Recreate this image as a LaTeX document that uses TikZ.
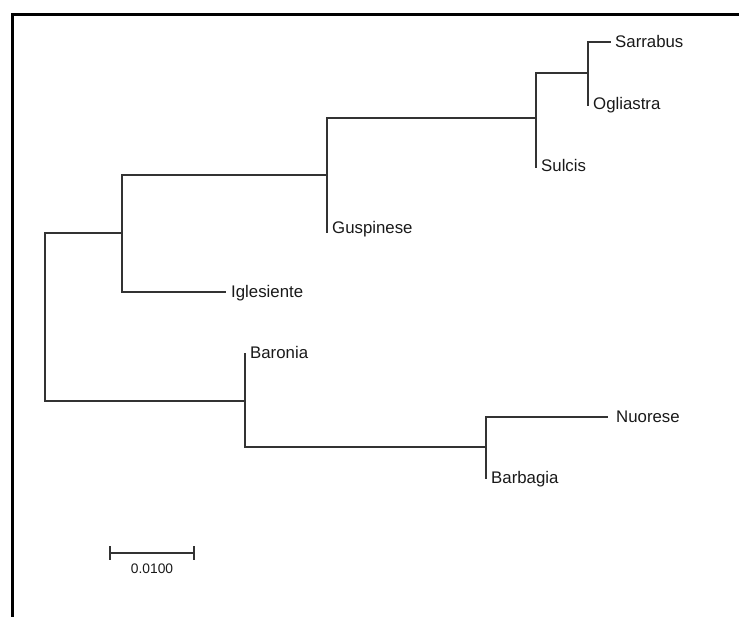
\documentclass[tikz,border=0pt]{standalone}
\usepackage{fontspec}
\setmainfont{Liberation Sans}
\begin{document}
\begin{tikzpicture}[x=1pt,y=-1pt,
  branch/.style={draw=black!80, line width=1.7pt, line cap=rect},
  leaf/.style={anchor=base west, inner sep=0pt, font=\fontsize{16.8}{19}\selectfont, text=black!90},
  scalelbl/.style={anchor=base, inner sep=0pt, font=\fontsize{13.8}{16}\selectfont, text=black!90}]
\useasboundingbox (0,0) rectangle (739,617);
\draw[line width=2.6pt, black] (12.3,617) -- (12.3,14.5) -- (739,14.5);
% internal nodes
\coordinate (root) at (45,317);
\coordinate (rtop) at (45,233);
\coordinate (rbot) at (45,401);
\coordinate (A) at (122,233);
\coordinate (Atop) at (122,175);
\coordinate (Abot) at (122,292);
\coordinate (B) at (327,175);
\coordinate (Btop) at (327,118);
\coordinate (C) at (536,118);
\coordinate (Ctop) at (536,73);
\coordinate (D) at (588,73);
\coordinate (Dtop) at (588,42);
\coordinate (E) at (245,401);
\coordinate (Ebot) at (245,447);
\coordinate (F) at (486,447);
\coordinate (Ftop) at (486,417);
% leaves
\coordinate (tSar) at (610,42);
\coordinate (tOgl) at (588,105);
\coordinate (tSul) at (536,167);
\coordinate (tGus) at (327,232);
\coordinate (tIgl) at (225,292);
\coordinate (tBar) at (245,354);
\coordinate (tNuo) at (607,417);
\coordinate (tBrb) at (486,478);
% branches
\draw[branch] (rtop) -- (rbot);
\draw[branch] (rtop) -- (A);
\draw[branch] (Atop) -- (Abot);
\draw[branch] (Atop) -- (B);
\draw[branch] (Abot) -- (tIgl);
\draw[branch] (Btop) -- (tGus);
\draw[branch] (Btop) -- (C);
\draw[branch] (Ctop) -- (tSul);
\draw[branch] (Ctop) -- (D);
\draw[branch] (Dtop) -- (tOgl);
\draw[branch] (Dtop) -- (tSar);
\draw[branch] (rbot) -- (E);
\draw[branch] (tBar) -- (Ebot);
\draw[branch] (Ebot) -- (F);
\draw[branch] (Ftop) -- (tBrb);
\draw[branch] (Ftop) -- (tNuo);
% labels
\node[leaf] (lSar) at ([shift={(5,5.8)}]tSar) {Sarrabus};
\node[leaf] (lOgl) at ([shift={(5,5)}]tOgl) {Ogliastra};
\node[leaf] (lSul) at ([shift={(5,4.7)}]tSul) {Sulcis};
\node[leaf] (lGus) at ([shift={(5,1.5)}]tGus) {Guspinese};
\node[leaf] (lIgl) at ([shift={(6,5.8)}]tIgl) {Iglesiente};
\node[leaf] (lBar) at ([shift={(5,5)}]tBar) {Baronia};
\node[leaf] (lNuo) at ([shift={(9,5)}]tNuo) {Nuorese};
\node[leaf] (lBrb) at ([shift={(5,5)}]tBrb) {Barbagia};
% scale bar
\coordinate (s1) at (110,553);
\coordinate (s2) at (194,553);
\draw[branch] (s1) -- (s2);
\draw[branch] ([yshift=-6]s1) -- ([yshift=6]s1);
\draw[branch] ([yshift=-6]s2) -- ([yshift=6]s2);
\node[scalelbl] (sl) at (152,573) {0.0100};
\end{tikzpicture}
\end{document}
